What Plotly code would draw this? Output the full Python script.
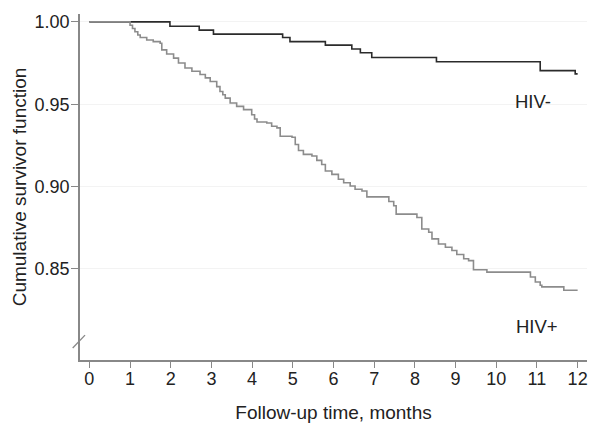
import plotly.graph_objects as go

# HIV-negative Kaplan-Meier step curve (months, survival)
hiv_neg_t = [0, 1.98, 2.70, 3.05, 4.75, 4.93, 5.80, 6.45, 6.66, 6.94, 8.53, 11.08, 11.94, 12.0]
hiv_neg_s = [1.0, 0.9974, 0.995, 0.9926, 0.9905, 0.988, 0.9859, 0.9835, 0.9813, 0.9784,
             0.9758, 0.9704, 0.9684, 0.9684]

# HIV-positive Kaplan-Meier step curve
hiv_pos_t = [0, 1.00, 1.06, 1.12, 1.19, 1.25, 1.41, 1.57, 1.74, 1.78, 1.90, 2.07, 2.19, 2.35,
             2.52, 2.72, 2.85, 2.97, 3.13, 3.21, 3.28, 3.34, 3.46, 3.62, 3.79, 3.99, 4.06,
             4.12, 4.36, 4.48, 4.61, 4.69, 4.98, 5.06, 5.14, 5.26, 5.47, 5.59, 5.71, 5.80,
             5.96, 6.12, 6.25, 6.41, 6.53, 6.70, 6.82, 7.36, 7.48, 7.54, 8.05, 8.17, 8.34,
             8.42, 8.58, 8.75, 8.91, 9.03, 9.20, 9.32, 9.44, 9.77, 10.84, 10.96, 11.08,
             11.12, 11.66, 12.0]
hiv_pos_s = [1.0, 0.998, 0.996, 0.994, 0.992, 0.9905, 0.989, 0.988, 0.987, 0.983, 0.9805,
             0.978, 0.975, 0.972, 0.970, 0.968, 0.966, 0.9638, 0.9607, 0.9577, 0.9557,
             0.9537, 0.9507, 0.9487, 0.9467, 0.9436, 0.941, 0.9392, 0.9386, 0.9366, 0.9356,
             0.9305, 0.9299, 0.9255, 0.9219, 0.9195, 0.9185, 0.9159, 0.9134, 0.9094, 0.9074,
             0.9044, 0.9023, 0.9003, 0.8983, 0.8973, 0.8937, 0.8909, 0.8883, 0.8832, 0.8812,
             0.8742, 0.8722, 0.8682, 0.8651, 0.8631, 0.8611, 0.8587, 0.8561, 0.8550, 0.8494,
             0.8480, 0.8450, 0.842, 0.840, 0.839, 0.837, 0.837]

x_ticks = list(range(0, 13))
y_ticks = [0.85, 0.90, 0.95, 1.00]
y_tick_labels = ["0.85", "0.90", "0.95", "1.00"]

group_labels = ["HIV-", "HIV+"]
label_x = [10.91, 11.0]
label_y = [0.9517, 0.8148]

FONT = "Liberation Sans, Arial, sans-serif"

fig = go.Figure()
fig.add_trace(go.Scatter(x=hiv_neg_t, y=hiv_neg_s, mode="lines", line_shape="hv",
                         line=dict(color="#2b2b2b", width=1.6), name="HIV-"))
fig.add_trace(go.Scatter(x=hiv_pos_t, y=hiv_pos_s, mode="lines", line_shape="hv",
                         line=dict(color="#8c8c8c", width=1.6), name="HIV+"))

for txt, xx, yy in zip(group_labels, label_x, label_y):
    fig.add_annotation(x=xx, y=yy, text=txt, showarrow=False,
                       font=dict(family=FONT, size=18.5, color="#222222"))

# axis break mark
fig.add_shape(type="line", xref="paper", yref="paper", x0=-0.0144, y0=0.0345,
              x1=0.0099, y1=0.0718, line=dict(color="#888888", width=1.3))

# page body has an 8px default margin, so the figure is sized to fit inside it
fig.update_layout(
    width=594, height=422,
    margin=dict(l=72, r=15, t=4, b=70),
    paper_bgcolor="white", plot_bgcolor="white",
    showlegend=False,
    font=dict(family=FONT, size=18, color="#222222"),
)
fig.update_xaxes(range=[-0.23, 12.23], tickvals=x_ticks, ticks="outside", ticklen=6,
                 tickcolor="#888888", tickwidth=1.2, showline=True, linecolor="#888888",
                 linewidth=1.5, showgrid=False, zeroline=False, ticklabelstandoff=-4,
                 title=dict(text="Follow-up time, months", standoff=17,
                            font=dict(family=FONT, size=19)),
                 tickfont=dict(family=FONT, size=18))
fig.update_yaxes(range=[0.7946, 1.0048], tickvals=y_ticks, ticktext=y_tick_labels,
                 ticks="outside", ticklen=7, tickcolor="#888888", tickwidth=1.2,
                 showline=True, linecolor="#888888", linewidth=1.5,
                 showgrid=True, gridcolor="#f3f3f3", gridwidth=1, zeroline=False,
                 ticklabelstandoff=-2,
                 title=dict(text="Cumulative survivor function", standoff=3,
                            font=dict(family=FONT, size=19)),
                 tickfont=dict(family=FONT, size=18))

fig.write_html("out.html")
